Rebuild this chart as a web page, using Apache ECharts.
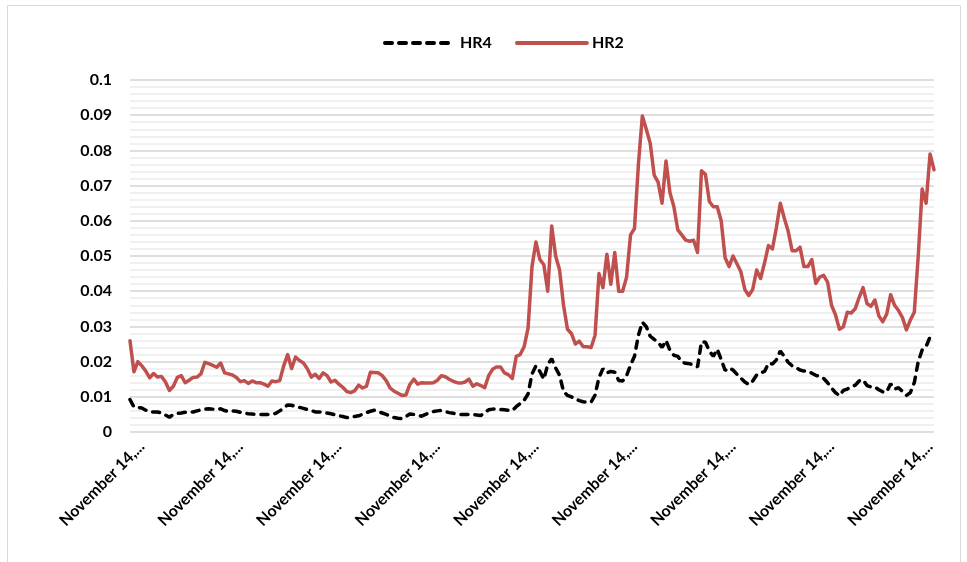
<!DOCTYPE html>
<html>
<head>
<meta charset="utf-8">
<script src="https://cdn.jsdelivr.net/npm/echarts@6/dist/echarts.min.js"></script>
<style>
html,body{margin:0;padding:0;background:#fff;}
#chart{width:967px;height:562px;}
</style>
</head>
<body>
<div id="chart"></div>
<script>
var categoryLabel = "November 14,...";
var pointCount = 205;
var categories = Array(pointCount).fill(categoryLabel);
var labelIndices = [3, 28, 53, 78, 103, 128, 153, 178, 203];
var yTicks = [0, 0.01, 0.02, 0.03, 0.04, 0.05, 0.06, 0.07, 0.08, 0.09, 0.1];

var hr2 = [
0.0259,0.0171,0.0200,0.0188,0.0173,0.0154,0.0166,0.0156,0.0158,0.0142,
0.0118,0.0130,0.0155,0.0160,0.0140,0.0147,0.0155,0.0156,0.0165,0.0198,
0.0194,0.0189,0.0184,0.0196,0.0168,0.0165,0.0162,0.0155,0.0143,0.0146,
0.0138,0.0145,0.0140,0.0140,0.0136,0.0130,0.0145,0.0143,0.0146,0.0188,
0.0220,0.0180,0.0213,0.0203,0.0196,0.0180,0.0156,0.0164,0.0152,0.0168,
0.0160,0.0142,0.0147,0.0136,0.0127,0.0115,0.0112,0.0117,0.0133,0.0125,
0.0130,0.0170,0.0169,0.0168,0.0160,0.0146,0.0125,0.0116,0.0110,0.0104,
0.0105,0.0135,0.0150,0.0136,0.0140,0.0139,0.0139,0.0140,0.0147,0.0160,
0.0157,0.0150,0.0144,0.0140,0.0139,0.0142,0.0150,0.0130,0.0137,0.0132,
0.0126,0.0160,0.0178,0.0185,0.0185,0.0168,0.0163,0.0152,0.0215,0.0220,
0.0242,0.0295,0.0470,0.0540,0.0490,0.0475,0.0400,0.0585,0.0500,0.0460,
0.0360,0.0292,0.0280,0.0250,0.0258,0.0242,0.0242,0.0240,0.0275,0.0450,
0.0410,0.0505,0.0420,0.0510,0.0400,0.0400,0.0440,0.0560,0.0578,0.0760,
0.0898,0.0860,0.0820,0.0730,0.0710,0.0650,0.0770,0.0680,0.0640,0.0574,
0.0560,0.0545,0.0542,0.0545,0.0510,0.0742,0.0732,0.0655,0.0640,0.0640,
0.0600,0.0495,0.0470,0.0500,0.0478,0.0455,0.0405,0.0388,0.0405,0.0460,
0.0436,0.0480,0.0530,0.0520,0.0580,0.0650,0.0608,0.0570,0.0515,0.0515,
0.0525,0.0470,0.0470,0.0490,0.0422,0.0440,0.0445,0.0426,0.0360,0.0333,
0.0292,0.0299,0.0340,0.0338,0.0350,0.0382,0.0410,0.0365,0.0357,0.0375,
0.0330,0.0313,0.0335,0.0390,0.0360,0.0345,0.0325,0.0290,0.0318,0.0340,
0.0500,0.0690,0.0650,0.0790,0.0745
];

var hr4 = [
0.0092,0.0071,0.0070,0.0068,0.0062,0.0057,0.0057,0.0057,0.0054,0.0048,
0.0042,0.0050,0.0053,0.0054,0.0056,0.0057,0.0057,0.0060,0.0063,0.0065,
0.0066,0.0065,0.0064,0.0066,0.0061,0.0058,0.0060,0.0059,0.0056,0.0054,
0.0052,0.0051,0.0050,0.0050,0.0050,0.0050,0.0050,0.0053,0.0060,0.0068,
0.0077,0.0076,0.0072,0.0070,0.0067,0.0064,0.0061,0.0057,0.0057,0.0057,
0.0054,0.0052,0.0049,0.0046,0.0044,0.0041,0.0042,0.0044,0.0046,0.0050,
0.0055,0.0059,0.0062,0.0058,0.0054,0.0050,0.0045,0.0041,0.0039,0.0038,
0.0044,0.0051,0.0050,0.0047,0.0045,0.0050,0.0055,0.0058,0.0060,0.0061,
0.0058,0.0055,0.0053,0.0051,0.0050,0.0050,0.0050,0.0050,0.0048,0.0047,
0.0055,0.0063,0.0065,0.0066,0.0064,0.0063,0.0062,0.0061,0.0072,0.0081,
0.0090,0.0108,0.0165,0.0188,0.0172,0.0150,0.0192,0.0208,0.0182,0.0161,
0.0115,0.0104,0.0100,0.0094,0.0089,0.0086,0.0085,0.0085,0.0105,0.0155,
0.0180,0.0168,0.0172,0.0170,0.0146,0.0145,0.0160,0.0190,0.0215,0.0275,
0.0312,0.0299,0.0272,0.0263,0.0255,0.0240,0.0260,0.0232,0.0218,0.0215,
0.0199,0.0195,0.0194,0.0190,0.0185,0.0256,0.0255,0.0230,0.0215,0.0235,
0.0206,0.0175,0.0182,0.0176,0.0164,0.0153,0.0142,0.0135,0.0145,0.0162,
0.0168,0.0172,0.0195,0.0193,0.0205,0.0230,0.0215,0.0198,0.0188,0.0183,
0.0176,0.0173,0.0173,0.0167,0.0161,0.0158,0.0152,0.0140,0.0125,0.0112,
0.0103,0.0118,0.0122,0.0128,0.0133,0.0145,0.0148,0.0132,0.0128,0.0128,
0.0120,0.0114,0.0114,0.0137,0.0122,0.0126,0.0115,0.0104,0.0112,0.0140,
0.0200,0.0233,0.0243,0.0270,0.0268
];

var FONT = 'Lato, "Open Sans", sans-serif';
var chart = echarts.init(document.getElementById('chart'), null, {renderer: 'canvas'});
chart.setOption({
  animation: false,
  backgroundColor: '#ffffff',
  graphic: [{
    type: 'rect', silent: true, z: -10,
    shape: {x: 7.5, y: 5.5, width: 953, height: 620},
    style: {fill: 'none', stroke: '#d9d9d9', lineWidth: 1}
  }],
  legend: {
    top: 30, left: 378,
    itemWidth: 70, itemHeight: 14, itemGap: 23,
    itemStyle: {opacity: 0},
    lineStyle: {width: 4},
    textStyle: {fontFamily: FONT, fontWeight: 'bold', fontSize: 16, color: '#000'},
    data: ['HR4', 'HR2']
  },
  grid: {left: 130, right: 33, top: 80, bottom: 130, containLabel: false},
  xAxis: {
    type: 'category',
    data: categories,
    boundaryGap: false,
    axisLine: {show: false},
    axisTick: {show: false},
    splitLine: {show: false},
    axisLabel: {
      interval: function (i) { return labelIndices.indexOf(i) >= 0; },
      rotate: 45,
      margin: 12,
      fontFamily: FONT, fontWeight: 'bold', fontSize: 16, color: '#000'
    }
  },
  yAxis: {
    type: 'value',
    min: yTicks[0], max: yTicks[yTicks.length - 1], interval: 0.01,
    axisLine: {show: false},
    axisTick: {show: false},
    axisLabel: {
      margin: 18,
      fontFamily: FONT, fontWeight: 'bold', fontSize: 16, color: '#000',
      formatter: function (v) { return String(parseFloat(v.toFixed(2))); }
    },
    splitLine: {lineStyle: {color: '#d4d4d4', width: 1.5}},
    minorTick: {show: false, splitNumber: 5},
    minorSplitLine: {show: true, lineStyle: {color: '#ececec', width: 1.5}}
  },
  series: [
    {
      name: 'HR4', type: 'line', data: hr4, symbol: 'none', z: 3,
      lineStyle: {color: '#000000', width: 3.5, type: [7, 7], cap: 'round'},
      itemStyle: {color: '#000000'}
    },
    {
      name: 'HR2', type: 'line', data: hr2, symbol: 'none', z: 2,
      lineStyle: {color: '#C0504D', width: 3.5, cap: 'round', join: 'round'},
      itemStyle: {color: '#C0504D'}
    }
  ]
});
</script>
</body>
</html>
